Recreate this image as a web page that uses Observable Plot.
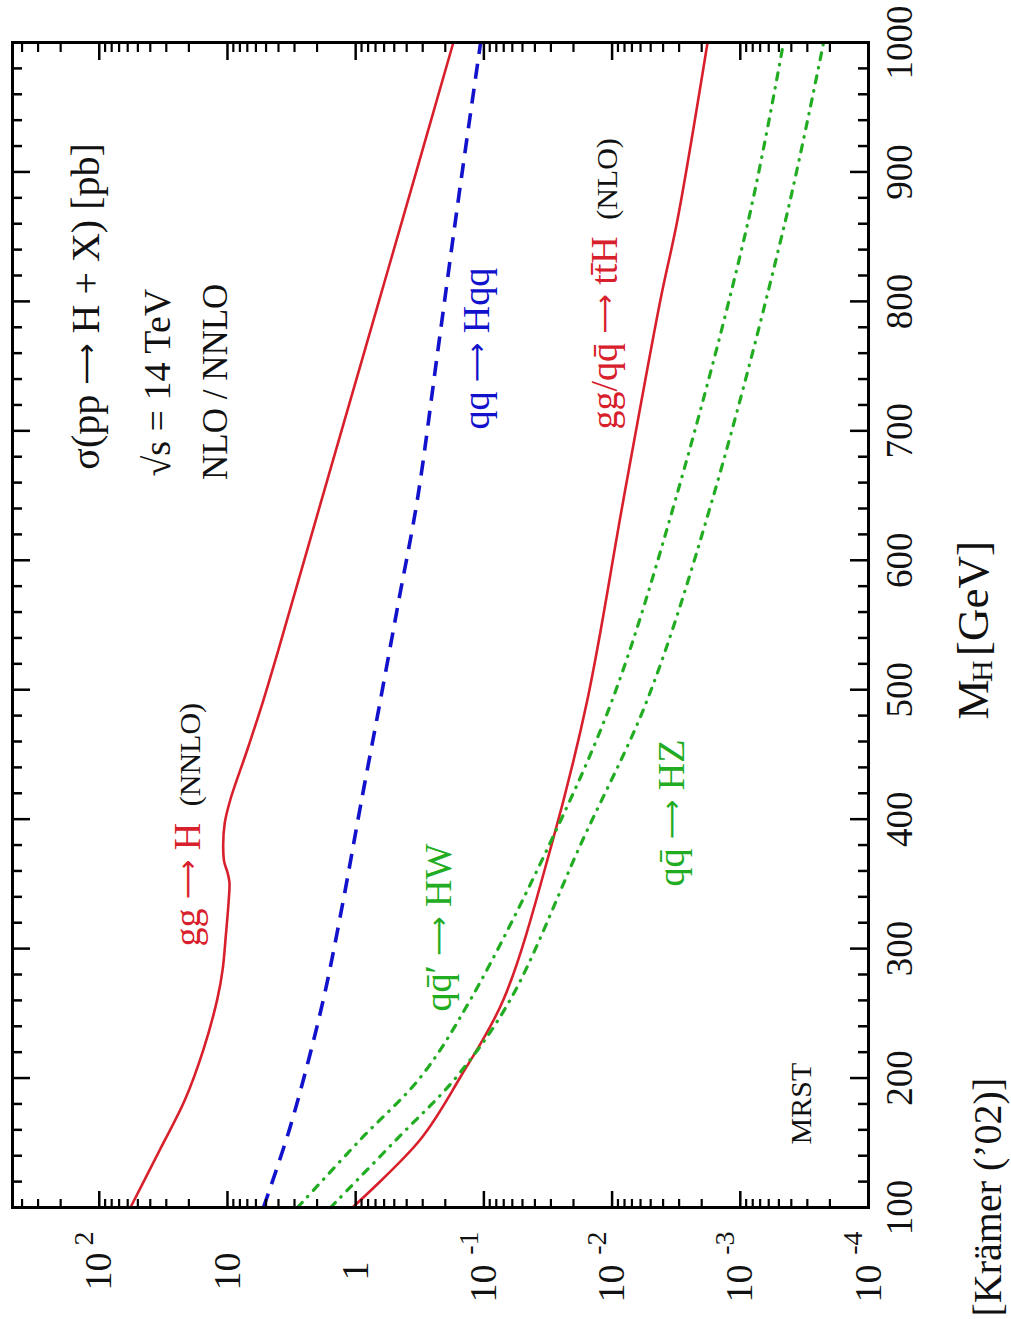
<!DOCTYPE html>
<html><head><meta charset="utf-8">
<script src="https://cdn.jsdelivr.net/npm/d3@7"></script>
<script src="https://cdn.jsdelivr.net/npm/@observablehq/plot@0.6"></script>
<style>
html,body{margin:0;padding:0;background:#fff;}
#wrap{position:relative;width:1011px;height:1319px;overflow:hidden;background:#fff;}
#wrap svg{position:absolute;left:0;top:0;max-width:none !important;transform-origin:0 0;transform:translate(0px,1319px) rotate(-90deg);}
</style></head><body><div id="wrap"></div>
<script>
// ---- data (M_H in GeV, sigma in pb) ----
const massGG  = [100,145,183,222,261,284,310,336,351,359,367,380,397,415,454,492,531,600,700,800,900,1000];
const sigmaGG = [57.1,33.5,21.5,15.4,12.0,10.9,10.3,9.8,9.65,10.0,10.6,10.8,10.5,9.5,6.98,5.24,4.0,2.52,1.29,0.659,0.337,0.173];

const massHqq  = [100,158,214,268,338,410,492,570,647,760,879,1000];
const sigmaHqq = [5.24,3.34,2.33,1.72,1.245,0.918,0.641,0.459,0.330,0.230,0.158,0.106];

const massHW  = [100,152.5,201,260.7,382,492.5,647,863,1000];
const sigmaHW = [2.84,0.918,0.31,0.127,0.0303,0.00993,0.0032,0.000863,0.00046];

const massHZ  = [100,152.5,201,260.7,382,492.5,647,863,1000];
const sigmaHZ = [1.57,0.481,0.163,0.0621,0.0173,0.0053,0.00165,0.000443,0.000224];

const massTTH  = [100,152.5,201,260.7,380,492.5,647,801.5,863,1000];
const sigmaTTH = [1.06,0.313,0.152,0.0703,0.0297,0.01556,0.00815,0.00419,0.00309,0.0018];

const massTicks = [100,200,300,400,500,600,700,800,900,1000];
const massTickLabels = ["100","200","300","400","500","600","700","800","900","1000"];
const sigmaDecades = [1e2,1e1,1,1e-1,1e-2,1e-3,1e-4];
const sigmaBase = ["10","10","1","10","10","10","10"];
const sigmaExp  = ["2","","","-1","-2","-3","-4"];

const labelText  = ["gg \u2192 H","(NNLO)","qq\u0304\u2032 \u2192 HW","qq \u2192 Hqq","gg/qq\u0304 \u2192 tt\u0304H","(NLO)","qq\u0304 \u2192 HZ","MRST","\u03c3(pp \u2192 H + X) [pb]","\u221as = 14 TeV","NLO / NNLO"];
const labelMass  = [301.6,410,251.4,701,701,863,348,148.7,670,664.7,662];
const labelSigma = [16.3,16.3,0.182,0.092,0.00908,0.00908,0.00277,0.000283,100,27.9,10];
const labelColor = ["red","black","green","blue","red","black","green","black","black","black","black"];
const labelSize  = [38,30,38,38,38,30,38,30,40,38,35];

// ---- styling ----
const W = 1319, H = 1011;
const mL = 111, mR = 43, mT = 12, mB = 143;
const plotW = W - mL - mR, plotH = H - mT - mB;
const colors = {red: "#d8202c", blue: "#1212cc", green: "#22ac22", black: "#111"};

const massMinor = d3.range(100, 1001, 20).filter(d => d % 100 !== 0);
const sigmaMinor = [];
for (let e = -4; e <= 2; e++) for (let k = 2; k <= 9; k++) { const v = k * Math.pow(10, e); if (v <= 475) sigmaMinor.push(v); }

const idx = d3.range(sigmaDecades.length);
const grpA = idx.filter(i => sigmaBase[i] === "10" && !sigmaExp[i].startsWith("-"));
const grpOne = idx.filter(i => sigmaBase[i] === "1");
const grpNeg = idx.filter(i => sigmaExp[i].startsWith("-"));
const grpExp = idx.filter(i => sigmaExp[i] !== "");
const lidx = d3.range(labelText.length);

const series = [
  {m: massGG, s: sigmaGG, c: colors.red, w: 2.6, dash: null},
  {m: massTTH, s: sigmaTTH, c: colors.red, w: 2.6, dash: null},
  {m: massHqq, s: sigmaHqq, c: colors.blue, w: 3.6, dash: "15,10"},
  {m: massHW, s: sigmaHW, c: colors.green, w: 3.2, dash: "7,8,0.5,8"},
  {m: massHZ, s: sigmaHZ, c: colors.green, w: 3.2, dash: "7,8,0.5,8"}
];

const marks = [];
for (const sr of series) {
  const pts = sr.m.map((m, i) => ({m, s: sr.s[i]}));
  marks.push(Plot.line(pts, {x: "m", y: "s", stroke: sr.c, strokeWidth: sr.w, strokeDasharray: sr.dash, strokeLinecap: sr.dash && sr.dash.includes("0.5") ? "round" : "butt", curve: "catmull-rom"}));
}
// ticks (inward, all four sides)
marks.push(
  Plot.tickX(massTicks, {x: d => d, insetTop: plotH - 18, strokeWidth: 2.5}),
  Plot.tickX(massTicks, {x: d => d, insetBottom: plotH - 18, strokeWidth: 2.5}),
  Plot.tickX(massMinor, {x: d => d, insetTop: plotH - 10, strokeWidth: 2.5}),
  Plot.tickX(massMinor, {x: d => d, insetBottom: plotH - 10, strokeWidth: 2.5}),
  Plot.tickY(sigmaDecades, {y: d => d, insetRight: plotW - 17, strokeWidth: 2.5}),
  Plot.tickY(sigmaDecades, {y: d => d, insetLeft: plotW - 17, strokeWidth: 2.5}),
  Plot.tickY(sigmaMinor, {y: d => d, insetRight: plotW - 9, strokeWidth: 2.2}),
  Plot.tickY(sigmaMinor, {y: d => d, insetLeft: plotW - 9, strokeWidth: 2.2}),
  Plot.frame({strokeWidth: 3})
);
// tick labels
marks.push(
  Plot.text(massTicks, {x: d => d, text: (d, i) => massTickLabels[i], frameAnchor: "bottom", lineAnchor: "top", dy: 17, fontSize: 37, fill: colors.black}),
  Plot.text(grpA, {y: i => sigmaDecades[i], text: i => sigmaBase[i], frameAnchor: "left", textAnchor: "end", lineAnchor: "middle", dx: -45, fontSize: 38, fill: colors.black}),
  Plot.text(grpOne, {y: i => sigmaDecades[i], text: i => sigmaBase[i], frameAnchor: "left", textAnchor: "end", lineAnchor: "middle", dx: -54, fontSize: 38, fill: colors.black}),
  Plot.text(grpNeg, {y: i => sigmaDecades[i], text: i => sigmaBase[i], frameAnchor: "left", textAnchor: "end", lineAnchor: "middle", dx: -57, fontSize: 38, fill: colors.black}),
  Plot.text(grpExp, {y: i => sigmaDecades[i], text: i => sigmaExp[i], frameAnchor: "left", textAnchor: "end", lineAnchor: "middle", dx: -24, dy: -15, fontSize: 28, fill: colors.black})
);
// axis title and credit
marks.push(
  Plot.text(["M"], {x: 477, text: d => d, frameAnchor: "bottom", textAnchor: "start", lineAnchor: "bottom", dy: 119, fontSize: 45, fill: colors.black}),
  Plot.text(["H"], {x: 506, text: d => d, frameAnchor: "bottom", textAnchor: "start", lineAnchor: "bottom", dy: 123, fontSize: 30, fill: colors.black}),
  Plot.text(["[GeV]"], {x: 526, text: d => d, frameAnchor: "bottom", textAnchor: "start", lineAnchor: "bottom", dy: 119, fontSize: 45, fill: colors.black}),
  Plot.text(["[Kr\u00e4mer (\u201902)]"], {text: d => d, frameAnchor: "bottom-left", textAnchor: "start", lineAnchor: "bottom", dx: -109, dy: 132, fontSize: 40, fill: colors.black})
);
// in-plot labels
marks.push(
  Plot.text(lidx, {x: i => labelMass[i], y: i => labelSigma[i], text: i => labelText[i], fill: i => colors[labelColor[i]], fontSize: i => labelSize[i], textAnchor: "start", lineAnchor: "bottom"})
);

const chart = Plot.plot({
  width: W, height: H,
  marginLeft: mL, marginRight: mR, marginTop: mT, marginBottom: mB,
  x: {type: "linear", domain: [100, 1000], axis: null},
  y: {type: "log", domain: [1e-4, 475], axis: null},
  style: {fontFamily: "'Liberation Serif', 'Times New Roman', serif", background: "white", maxWidth: "none", overflow: "visible"},
  marks
});

// draw the arrows as long thin arrows, like the original typesetting
const NS = "http://www.w3.org/2000/svg";
chart.querySelectorAll("text").forEach(t => {
  const s = t.textContent;
  if (!s.includes("\u2192") || t.children.length) return;
  const parts = s.split("\u2192");
  t.textContent = "";
  parts.forEach((p, k) => {
    if (k > 0) {
      const a = document.createElementNS(NS, "tspan");
      a.setAttribute("font-family", "DejaVu Sans");
      a.setAttribute("font-size", "0.72em");
      a.setAttribute("dy", "-3");
      a.textContent = "\u27f6";
      t.appendChild(a);
      const b = document.createElementNS(NS, "tspan");
      b.setAttribute("dy", "3");
      b.textContent = p;
      t.appendChild(b);
    } else if (p) t.appendChild(document.createTextNode(p));
  });
});

document.getElementById("wrap").appendChild(chart);
</script></body></html>
